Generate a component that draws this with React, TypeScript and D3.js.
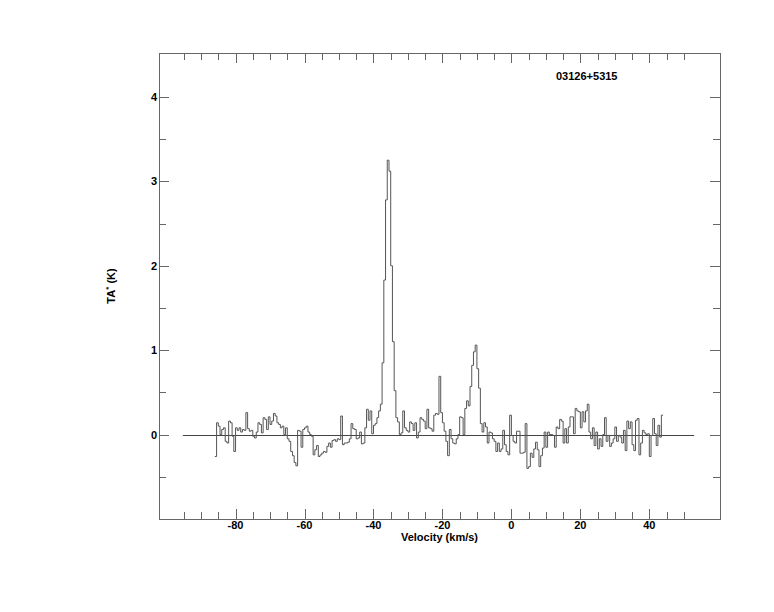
import { useEffect, useRef } from 'react';
import * as d3 from 'd3';

// spectrum channels: velocity of first channel edge and channel width (km/s)
const V_START = -86.0;
const CHANNEL_WIDTH = 0.5;

// antenna temperature TA* (K) per channel, one row = 10 channels = 5 km/s
const TA = [
    -0.26, 0.14, 0.10, 0.00, 0.06, 0.08, -0.08, -0.10, 0.16, 0.14,    // -86
    -0.02, -0.20, 0.08, 0.05, 0.08, 0.03, 0.06, 0.05, 0.26, 0.07,     // -81
    0.04, 0.05, -0.02, -0.04, 0.03, 0.14, 0.12, 0.02, 0.20, 0.18,     // -76
    0.06, 0.21, 0.12, 0.16, 0.25, 0.22, 0.14, 0.12, 0.08, 0.10,       // -71
    0.00, 0.08, -0.05, -0.08, -0.20, -0.25, -0.33, -0.37, 0.05, 0.04, // -66
    -0.15, 0.06, 0.08, 0.10, 0.03, 0.00, -0.02, -0.24, -0.18, -0.13,  // -61
    -0.26, -0.24, -0.22, -0.20, -0.21, -0.14, -0.10, -0.15, -0.07, -0.06, // -56
    -0.08, -0.05, -0.06, 0.22, -0.12, -0.10, -0.10, -0.09, -0.05, 0.13,   // -51
    0.07, 0.06, -0.05, -0.04, 0.03, -0.11, -0.10, 0.08, 0.30, 0.17,   // -46
    0.28, 0.01, 0.11, 0.13, 0.20, 0.28, 0.36, 0.85, 1.83, 2.78,       // -41
    3.25, 3.12, 2.00, 1.10, 0.52, 0.20, 0.15, 0.00, 0.02, 0.28,       // -36
    0.08, 0.05, 0.03, 0.15, 0.13, 0.05, 0.14, -0.04, 0.03, 0.20,      // -31
    0.18, 0.16, 0.07, 0.30, 0.08, 0.07, 0.04, 0.23, 0.25, 0.24,       // -26
    0.69, 0.26, 0.14, 0.04, -0.08, -0.25, 0.06, -0.05, -0.10, -0.11,  // -21
    -0.05, 0.00, 0.21, 0.20, 0.00, 0.31, 0.40, 0.34, 0.57, 0.82,      // -16
    0.98, 1.06, 0.78, 0.55, 0.13, 0.03, 0.14, 0.09, -0.10, 0.03,      // -11
    0.02, -0.05, -0.08, -0.20, -0.10, -0.20, -0.17, 0.05, -0.12, -0.20, // -6
    -0.24, 0.23, -0.01, -0.08, -0.10, 0.04, 0.04, -0.22, -0.22, -0.21,  // -1
    0.13, -0.40, -0.38, -0.22, -0.27, -0.17, -0.09, -0.18, -0.38, -0.25, // 4
    -0.16, 0.03, -0.15, 0.03, 0.00, 0.00, -0.01, -0.15, 0.09, 0.07,   // 9
    0.18, 0.16, -0.10, 0.07, -0.10, 0.09, 0.21, 0.21, 0.01, 0.31,     // 14
    0.28, 0.27, 0.08, 0.27, 0.15, 0.28, 0.36, 0.03, -0.05, 0.08,      // 19
    -0.13, 0.03, -0.17, -0.05, -0.14, 0.00, 0.20, -0.08, -0.01, -0.14, // 24
    -0.10, -0.05, 0.09, -0.08, -0.01, -0.03, -0.10, 0.05, -0.19, 0.16, // 29
    0.07, 0.15, -0.12, -0.19, 0.17, 0.19, -0.24, -0.10, 0.05, 0.02,   // 34
    0.00, 0.01, -0.26, -0.01, 0.19, 0.01, -0.13, 0.11, -0.03, 0.23,   // 39
];

const SOURCE = '03126+5315';
const X_DOMAIN = [-102.2, 60.5];
const Y_DOMAIN = [-1, 4.52];
const BASELINE_RANGE = [-95.3, 53];
const X_LABELS = [-80, -60, -40, -20, 0, 20, 40];
const X_MINOR = [-95, -90, -85, -75, -70, -65, -55, -50, -45, -35, -30, -25, -15, -10, -5, 5, 10, 15, 25, 30, 35, 45, 50];
const Y_LABELS = [0, 1, 2, 3, 4];
const Y_MINOR = [-0.5, 0.5, 1.5, 2.5, 3.5];

const FONT = '"Liberation Sans", Arial, Helvetica, sans-serif';

const App = () => {
    const ref = useRef(null);

    useEffect(() => {
        const svg = d3.select(ref.current);
        svg.selectAll('*').remove();

        const left = 159, right = 720, top = 53, bottom = 519;
        const x = d3.scaleLinear().domain(X_DOMAIN).range([left, right]);
        const y = d3.scaleLinear().domain(Y_DOMAIN).range([bottom, top]);
        const frameColor = '#666';

        // frame
        svg.append('rect')
            .attr('x', left + 0.5).attr('y', top + 0.5)
            .attr('width', right - left).attr('height', bottom - top)
            .attr('fill', 'none').attr('stroke', frameColor).attr('stroke-width', 1);

        // x ticks (bottom and top, pointing inward)
        const xTicks = [...X_LABELS.map(v => ({ v, len: 10 })), ...X_MINOR.map(v => ({ v, len: 7 }))];
        const tg = svg.append('g').attr('stroke', frameColor).attr('stroke-width', 1).attr('shape-rendering', 'crispEdges');
        xTicks.forEach(t => {
            const px = Math.round(x(t.v)) + 0.5;
            tg.append('line').attr('x1', px).attr('x2', px).attr('y1', bottom).attr('y2', bottom - t.len);
            tg.append('line').attr('x1', px).attr('x2', px).attr('y1', top).attr('y2', top + t.len);
        });

        // y ticks (left and right)
        const yTicks = [...Y_LABELS.map(v => ({ v, len: 10 })), ...Y_MINOR.map(v => ({ v, len: 7 }))];
        yTicks.forEach(t => {
            const py = Math.round(y(t.v)) + 0.5;
            tg.append('line').attr('x1', left).attr('x2', left + t.len).attr('y1', py).attr('y2', py);
            tg.append('line').attr('x1', right).attr('x2', right - t.len).attr('y1', py).attr('y2', py);
        });

        const text = svg.append('g')
            .style('font-family', FONT)
            .style('font-size', '11px')
            .style('font-weight', 'bold')
            .attr('fill', '#000');

        text.selectAll('.xl')
            .data(X_LABELS)
            .join('text')
            .attr('x', d => x(d))
            .attr('y', 529)
            .attr('text-anchor', 'middle')
            .text(d => d);

        text.selectAll('.yl')
            .data(Y_LABELS)
            .join('text')
            .attr('x', left - 2)
            .attr('y', d => y(d) + 4)
            .attr('text-anchor', 'end')
            .text(d => d);

        text.append('text')
            .attr('x', (left + right) / 2)
            .attr('y', 541)
            .attr('text-anchor', 'middle')
            .text('Velocity (km/s)');

        const yTitle = text.append('text')
            .attr('transform', `translate(115,${(top + bottom) / 2}) rotate(-90)`)
            .attr('text-anchor', 'middle');
        yTitle.append('tspan').text('TA');
        yTitle.append('tspan').attr('dy', -4).style('font-size', '8px').text('*');
        yTitle.append('tspan').attr('dy', 4).text(' (K)');

        text.append('text')
            .attr('x', 556)
            .attr('y', 80)
            .text(SOURCE);

        // zero baseline
        svg.append('line')
            .attr('x1', x(BASELINE_RANGE[0])).attr('x2', x(BASELINE_RANGE[1]))
            .attr('y1', Math.round(y(0)) + 0.5).attr('y2', Math.round(y(0)) + 0.5)
            .attr('stroke', '#444').attr('stroke-width', 1);

        // spectrum as histogram steps
        const points = TA.map((t, i) => [V_START + i * CHANNEL_WIDTH, t]);
        points.push([V_START + TA.length * CHANNEL_WIDTH, TA[TA.length - 1]]);
        const line = d3.line()
            .x(d => x(d[0]))
            .y(d => y(d[1]))
            .curve(d3.curveStepAfter);

        svg.append('path')
            .datum(points)
            .attr('d', line)
            .attr('fill', 'none')
            .attr('stroke', '#555')
            .attr('stroke-width', 1);
    }, []);

    return (
        <svg ref={ref} width={774} height={612}
            style={{ position: 'absolute', left: 0, top: 0, background: '#fff' }} />
    );
};

export default App;
